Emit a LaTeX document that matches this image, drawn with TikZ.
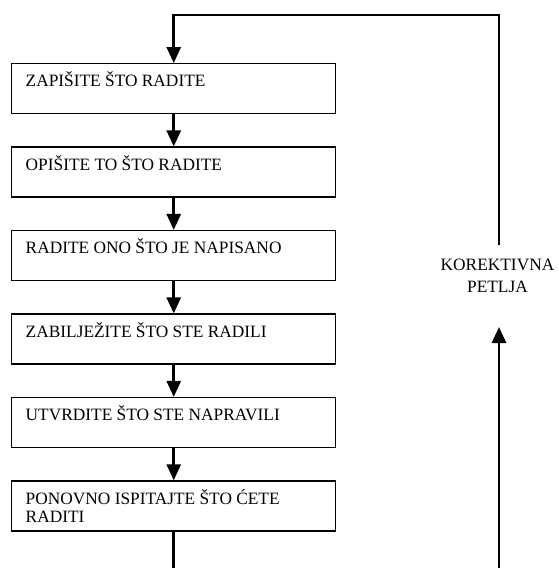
\documentclass[tikz,border=0pt]{standalone}
\usepackage{fontspec}
\setmainfont{Liberation Serif}
\usetikzlibrary{positioning,arrows.meta}

\newcommand{\kutija}[1]{\parbox[c][37.5pt][t]{222pt}{\raggedright\rule{0pt}{17.25pt}#1}}

\begin{document}
\begin{tikzpicture}[x=0.75pt, y=-0.75pt,
  korak/.style={draw, line width=1.1pt, inner xsep=10.5pt, inner ysep=0pt, font=\fontsize{13}{13.5}\selectfont},
  tok/.style={line width=2pt, -{Triangle[length=12pt, width=10.5pt]}},
  vod/.style={line width=2pt}]
\useasboundingbox (0,0) rectangle (559,568);
\node[korak, anchor=north west] (zapis) at (11,63) {\kutija{ZAPIŠITE ŠTO RADITE}};
\node[korak, below=24pt of zapis] (opis) {\kutija{OPIŠITE TO ŠTO RADITE}};
\node[korak, below=24pt of opis] (rad) {\kutija{RADITE ONO ŠTO JE NAPISANO}};
\node[korak, below=24pt of rad] (biljez) {\kutija{ZABILJEŽITE ŠTO STE RADILI}};
\node[korak, below=24pt of biljez] (utvrd) {\kutija{UTVRDITE ŠTO STE NAPRAVILI}};
\node[korak, below=24pt of utvrd] (ispit) {\kutija{PONOVNO ISPITAJTE ŠTO ĆETE\\RADITI}};
\node[align=center, font=\fontsize{13}{17}\selectfont] (petlja) at (497.5,276) {KOREKTIVNA\\PETLJA};
\coordinate (gore-d) at (499,15);
\coordinate (prekid) at (499,245);
\coordinate (vrh-d) at (499,327);
\coordinate (dolje-d) at (499,568);
\coordinate (dolje-l) at (ispit.south |- dolje-d);
\draw[tok] (prekid) -- (gore-d) -- (gore-d -| zapis.north) -- (zapis.north);
\draw[tok] (zapis) -- (opis);
\draw[tok] (opis) -- (rad);
\draw[tok] (rad) -- (biljez);
\draw[tok] (biljez) -- (utvrd);
\draw[tok] (utvrd) -- (ispit);
\draw[vod] (ispit) -- (dolje-l);
\draw[tok] (dolje-d) -- (vrh-d);
\end{tikzpicture}
\end{document}
